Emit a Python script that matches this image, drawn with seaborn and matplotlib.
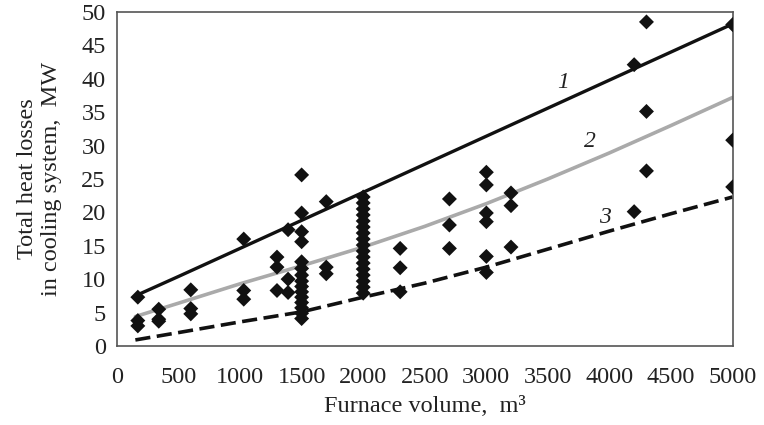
import matplotlib
matplotlib.use("Agg")
import matplotlib.pyplot as plt
import seaborn as sns
import pandas as pd

# ---- data ----
volumes = [170, 340, 600, 1030, 1300, 1390, 1500, 1700, 2000, 2300, 2700, 3000, 3200, 4200, 4300, 5000]
losses = [
    [7.3, 3.8, 3.0],
    [5.5, 4.0, 3.7],
    [8.4, 5.6, 4.8],
    [16.0, 8.3, 7.0],
    [13.3, 11.8, 8.3],
    [17.4, 10.0, 8.0],
    [25.6, 19.9, 17.1, 15.6, 12.6, 11.6, 10.6, 9.7, 8.9, 8.1, 7.3, 6.5, 5.7, 4.9, 4.1],
    [21.6, 11.8, 10.8],
    [22.3, 21.4, 20.5, 19.6, 18.7, 17.8, 16.9, 16.0, 15.1, 14.2, 13.3, 12.4, 11.5, 10.6, 9.7, 8.8, 7.9],
    [14.6, 11.7, 8.1],
    [22.0, 18.1, 14.6],
    [26.0, 24.1, 19.9, 18.6, 13.4, 11.0],
    [22.9, 21.0, 14.8],
    [42.1, 20.1],
    [48.5, 35.1, 26.2],
    [48.1, 30.8, 23.8],
]

line_x = [150, 500, 1000, 1500, 2000, 2500, 3000, 3500, 4000, 4500, 5000]
line1_y = [7.5, 10.4, 14.6, 18.8, 23.0, 27.2, 31.4, 35.6, 39.8, 44.0, 48.2]
line2_y = [4.4, 6.4, 9.3, 12.0, 14.8, 17.9, 21.3, 25.0, 28.9, 33.0, 37.2]
line3_y = [0.9, 2.0, 3.6, 5.1, 7.3, 9.4, 11.8, 14.5, 17.2, 19.8, 22.3]

curve_labels = ["1", "2", "3"]
label_pos = [(3620, 39.5), (3840, 30.6), (3960, 19.3)]

x_ticks = list(range(0, 5001, 500))
y_ticks = list(range(0, 51, 5))

# ---- build tables ----
pts = pd.DataFrame(
    [(v, q) for v, qs in zip(volumes, losses) for q in qs],
    columns=["volume", "loss"],
)
curves = pd.DataFrame({"volume": line_x, "l1": line1_y, "l2": line2_y, "l3": line3_y})

sns.set_theme(style="white")
plt.rcParams["font.family"] = ["Liberation Serif", "DejaVu Serif"]

fig = plt.figure(figsize=(7.64, 4.25), dpi=100)
ax = fig.add_axes([0.153, 0.186, 0.806, 0.786])

sns.lineplot(data=curves, x="volume", y="l1", ax=ax, color="#111111", lw=2.4, zorder=2)
sns.lineplot(data=curves, x="volume", y="l2", ax=ax, color="#aaaaaa", lw=2.6, zorder=2)
sns.lineplot(data=curves, x="volume", y="l3", ax=ax, color="#111111", lw=2.6,
             linestyle=(0, (4.2, 1.8)), zorder=2)
sns.scatterplot(data=pts, x="volume", y="loss", ax=ax, marker="D", s=58,
                color="#111111", edgecolor="none", zorder=3)

for lab, (lx, ly) in zip(curve_labels, label_pos):
    ax.text(lx, ly, lab, fontsize=17, style="italic", ha="center", va="center", color="#222222")

ax.set_xlim(0, 5000)
ax.set_ylim(0, 50)
ax.set_xticks(x_ticks)
ax.set_yticks(y_ticks)
ax.tick_params(axis="both", labelsize=17.5, length=0, colors="#222222")
ax.tick_params(axis="x", pad=15)
ax.tick_params(axis="y", pad=8)
ax.set_xlabel("Furnace volume,  m³", fontsize=17.5, color="#222222", labelpad=6)
ax.set_ylabel("Total heat losses\nin cooling system,  MW", fontsize=17.5, color="#222222",
              labelpad=14, linespacing=1.15)
for sp in ax.spines.values():
    sp.set_visible(True)
    sp.set_color("#555555")
    sp.set_linewidth(1.2)
ax.grid(False)

fig.savefig("out.png", dpi=100)
